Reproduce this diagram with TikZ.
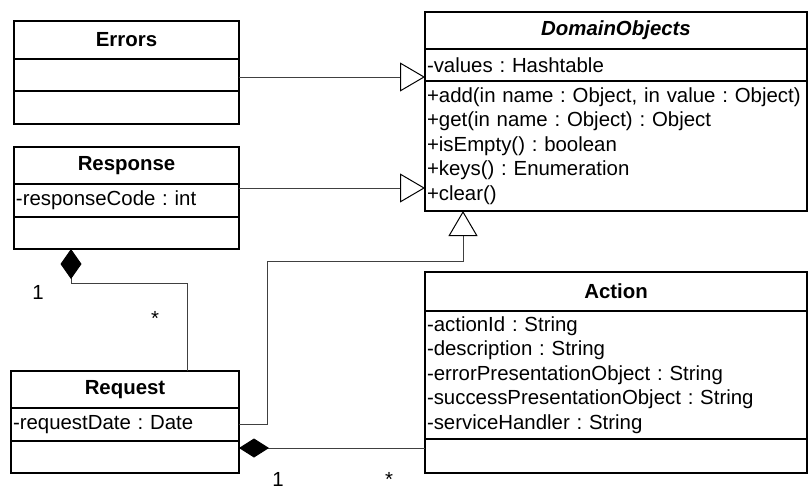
\documentclass[tikz,border=0pt]{standalone}
\usepackage{fontspec}
\setmainfont{Liberation Sans}
\usetikzlibrary{arrows.meta, positioning}
\newcommand{\umlsize}{\frenchspacing\fontsize{20.4}{24.5}\selectfont}
\tikzstyle{classhead} = [draw=black, line width=1.3pt, anchor=north west, outer sep=0pt, inner xsep=2pt, inner ysep=0pt, align=center, font={\umlsize\bfseries}]
\tikzstyle{compart} = [draw=black, line width=1.3pt, outer sep=0pt, inner xsep=2pt, inner ysep=0pt, align=left, font=\umlsize]
\tikzstyle{gen} = [-{Triangle[open, length=25pt, width=29pt, color=black, line width=1pt]}, line width=0.9pt, draw=black!75]
\tikzstyle{comp} = [-{Diamond[length=30pt, width=19pt, color=black]}, line width=0.9pt, draw=black!75]
\tikzstyle{compv} = [-{Diamond[length=30pt, width=21pt, color=black]}, line width=0.9pt, draw=black!75]
\tikzstyle{mult} = [inner sep=0pt, font=\umlsize]

\begin{document}
\begin{tikzpicture}[x=1pt, y=-1pt, node distance=0pt]
    \useasboundingbox (0,0) rectangle (808,489);

    % classes on the left
    \node (errhead) [classhead, text width=221pt, minimum height=38pt] at (14,21) {Errors};
    \node (errattr) [compart, text width=221pt, minimum height=32pt, below=of errhead] {};
    \node (errops) [compart, text width=221pt, minimum height=33pt, below=of errattr] {};

    \node (resphead) [classhead, text width=221pt, minimum height=37pt] at (14,147) {Response};
    \node (respattr) [compart, text width=221pt, minimum height=33pt, below=of resphead] {-responseCode : int};
    \node (respops) [compart, text width=221pt, minimum height=32pt, below=of respattr] {};

    \node (reqhead) [classhead, text width=224pt, minimum height=37pt] at (11,371) {Request};
    \node (reqattr) [compart, text width=224pt, minimum height=33pt, below=of reqhead] {-requestDate : Date};
    \node (reqops) [compart, text width=224pt, minimum height=32pt, below=of reqattr] {};

    % classes on the right
    \node (domhead) [classhead, text width=378pt, minimum height=37pt] at (425,12) {\itshape DomainObjects};
    \node (domattr) [compart, text width=378pt, minimum height=32pt, below=of domhead] {-values : Hashtable};
    \node (domops) [compart, text width=378pt, minimum height=130pt, below=of domattr] {+add(in name : Object, in value : Object)\\+get(in name : Object) : Object\\+isEmpty() : boolean\\+keys() : Enumeration\\+clear()};

    \node (acthead) [classhead, text width=378pt, minimum height=39pt] at (425,272) {Action};
    \node (actattr) [compart, text width=378pt, minimum height=128pt, below=of acthead] {-actionId : String\\-description : String\\-errorPresentationObject : String\\-successPresentationObject : String\\-serviceHandler : String};
    \node (actops) [compart, text width=378pt, minimum height=34pt, below=of actattr] {};

    % generalizations
    \draw [gen] ([yshift=-2pt]errattr.east) -- ([yshift=-2pt]errattr.east -| domhead.west);
    \draw [gen] ([yshift=-4pt]respattr.north east) -- ([yshift=-4pt]respattr.north east -| domhead.west);

    \coordinate (genbend) at (463,261);
    \draw [gen] (reqattr.east) -- ++(28,0) |- (genbend) -- (genbend |- domops.south);

    % compositions
    \coordinate (rrbend) at (187,283);
    \coordinate (rrdiam) at (71,283);
    \draw [compv] (rrbend |- reqhead.north) -- (rrbend) -- (rrdiam) -- (rrdiam |- respops.south);

    \draw [comp] ([yshift=-9pt]actops.north west) -- ([yshift=-9pt]actops.north west -| reqops.east);

    % multiplicities
    \node (resp1) [mult] at (38,292) {1};
    \node (reqstar) [mult] at (155,318) {*};
    \node (req1) [mult] at (278,479) {1};
    \node (actstar) [mult] at (389,479) {*};

\end{tikzpicture}
\end{document}
